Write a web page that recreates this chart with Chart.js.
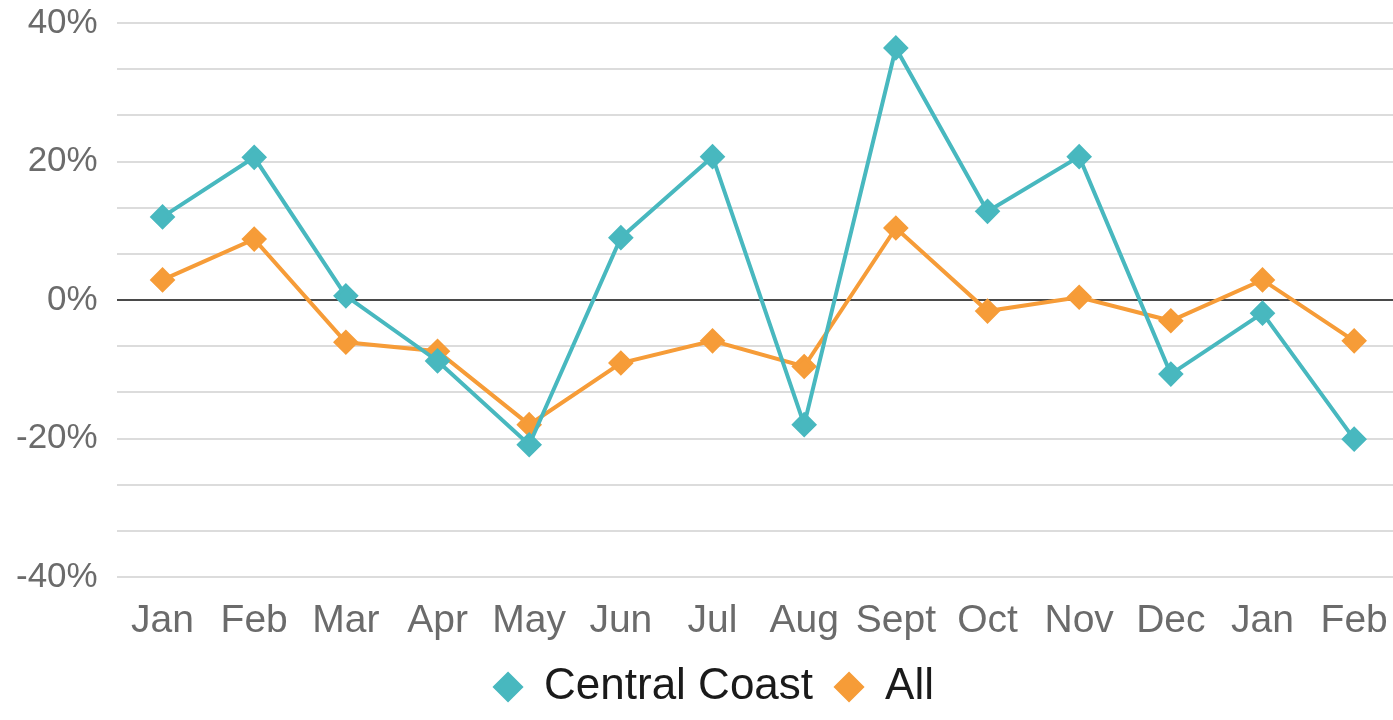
<!DOCTYPE html>
<html>
<head>
<meta charset="utf-8">
<script src="https://cdn.jsdelivr.net/npm/chart.js@4.4.1/dist/chart.umd.min.js"></script>
<style>
  html, body { margin: 0; padding: 0; background: #fff; overflow: hidden; }
  #wrap { width: 1414px; height: 720px; }
</style>
</head>
<body>
<div id="wrap"><canvas id="chart"></canvas></div>
<script>
// Månader och serier (procentuell förändring)
var months = ['Jan', 'Feb', 'Mar', 'Apr', 'May', 'Jun', 'Jul', 'Aug', 'Sept', 'Oct', 'Nov', 'Dec', 'Jan', 'Feb'];
var centralCoast = [12.0, 20.6, 0.6, -8.8, -20.9, 9.0, 20.7, -18.0, 36.4, 12.8, 20.7, -10.7, -1.9, -20.1];
var allRegions = [2.9, 8.8, -6.1, -7.4, -18.0, -9.1, -5.9, -9.6, 10.4, -1.6, 0.4, -3.0, 2.9, -5.9];
var yMin = -40, yMax = 40, yStep = 20 / 3;

var teal = '#48b8bf';
var orange = '#f69c38';
var fontFam = 'Liberation Sans, Arial, sans-serif';

var ctx = document.getElementById('chart').getContext('2d');
new Chart(ctx, {
  type: 'line',
  data: {
    labels: months,
    datasets: [{
      label: 'Central Coast',
      data: centralCoast,
      borderColor: teal,
      backgroundColor: teal,
      borderWidth: 4,
      pointStyle: 'rectRot',
      pointRadius: 10,
      pointHoverRadius: 10,
      tension: 0
    }, {
      label: 'All',
      data: allRegions,
      borderColor: orange,
      backgroundColor: orange,
      borderWidth: 4,
      pointStyle: 'rectRot',
      pointRadius: 10,
      pointHoverRadius: 10,
      tension: 0
    }]
  },
  options: {
    responsive: true,
    maintainAspectRatio: false,
    animation: false,
    layout: { padding: { top: 0, left: 14, right: 0, bottom: 1 } },
    plugins: {
      legend: {
        position: 'bottom',
        labels: {
          usePointStyle: true,
          pointStyle: 'rectRot',
          boxWidth: 28,
          boxHeight: 18,
          padding: 22,
          color: '#1a1a1a',
          font: { family: fontFam, size: 44, lineHeight: 1 }
        }
      },
      tooltip: { enabled: false }
    },
    scales: {
      x: {
        offset: true,
        grid: { display: false, drawTicks: true, tickLength: 33 },
        border: { display: false },
        afterFit: function(s) { s.height = 66; },
        ticks: {
          color: '#6b6b6b',
          padding: 4,
          maxRotation: 0,
          autoSkip: false,
          font: { family: fontFam, size: 39, lineHeight: 0.36 }
        }
      },
      y: {
        min: yMin,
        max: yMax,
        border: { display: false },
        grid: {
          drawTicks: true,
          tickLength: 17,
          tickColor: 'rgba(0,0,0,0)',
          lineWidth: 2,
          color: function(c) {
            return Math.abs(c.tick.value) < 0.01 ? '#4a4a4a' : '#dcdcdc';
          }
        },
        ticks: {
          stepSize: yStep,
          autoSkip: false,
          color: '#6b6b6b',
          padding: 2,
          font: { family: fontFam, size: 35 },
          callback: function(v) {
            var r = Math.round(v);
            if (Math.abs(v - r) < 0.01 && r % 20 === 0) return r + '%';
            return '';
          }
        }
      }
    }
  }
});
</script>
</body>
</html>
